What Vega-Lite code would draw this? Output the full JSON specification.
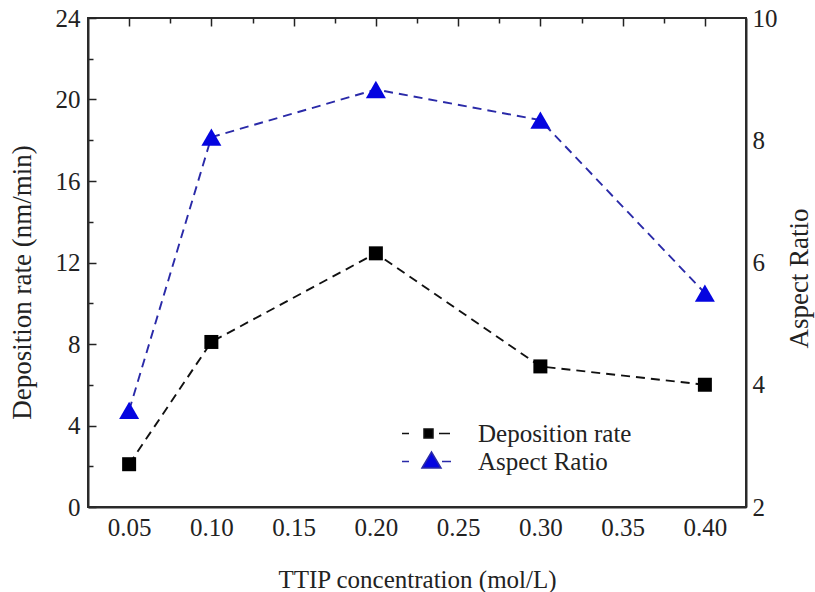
{
  "$schema": "https://vega.github.io/schema/vega-lite/v6.json",
  "width": 658,
  "height": 489,
  "autosize": {"type": "none"},
  "padding": {"left": 88, "top": 18, "right": 69, "bottom": 85},
  "background": "white",
  "config": {
    "view": {"stroke": "#2a2a2a", "strokeWidth": 2},
    "font": "Liberation Serif",
    "axis": {
      "domainColor": "#2a2a2a",
      "domainWidth": 2,
      "ticks": false,
      "tickSize": 0,
      "grid": true,
      "gridColor": "#222",
      "gridWidth": 1.5,
      "gridOpacity": 1,
      "labelFont": "Liberation Serif",
      "labelFontSize": 25,
      "labelColor": "#222",
      "labelPadding": 8,
      "titleFont": "Liberation Serif",
      "titleFontSize": 25,
      "titleFontWeight": "normal",
      "titleColor": "#222"
    },
    "legend": {
      "labelFont": "Liberation Serif",
      "labelFontSize": 25,
      "labelColor": "#222",
      "symbolSize": 400,
      "labelOffset": 40,
      "symbolStrokeWidth": 1.5
    }
  },
  "data": {
    "values": [
      {"conc": 0.05, "series": "Deposition rate", "value": 2.1},
      {"conc": 0.10, "series": "Deposition rate", "value": 8.1},
      {"conc": 0.20, "series": "Deposition rate", "value": 12.45},
      {"conc": 0.30, "series": "Deposition rate", "value": 6.9},
      {"conc": 0.40, "series": "Deposition rate", "value": 6.0},
      {"conc": 0.05, "series": "Aspect Ratio", "value": 3.58},
      {"conc": 0.10, "series": "Aspect Ratio", "value": 8.05},
      {"conc": 0.20, "series": "Aspect Ratio", "value": 8.83},
      {"conc": 0.30, "series": "Aspect Ratio", "value": 8.33},
      {"conc": 0.40, "series": "Aspect Ratio", "value": 5.5}
    ]
  },
  "encoding": {
    "x": {
      "field": "conc",
      "type": "quantitative",
      "scale": {"domain": [0.025, 0.425], "nice": false, "zero": false},
      "axis": {
        "orient": "bottom",
        "title": "TTIP concentration (mol/L)",
        "values": [0.05, 0.075, 0.1, 0.125, 0.15, 0.175, 0.2, 0.225, 0.25, 0.275, 0.3, 0.325, 0.35, 0.375, 0.4],
        "format": ".2f",
        "labelExpr": "round(datum.value * 1000) % 50 === 0 ? datum.label : ''",
        "gridDash": {"condition": {"test": "round(datum.value * 1000) % 50 === 0", "value": [8, 2000]}, "value": [5, 2000]},
        "titlePadding": 27
      }
    }
  },
  "layer": [
    {
      "transform": [{"filter": "datum.series === 'Deposition rate'"}],
      "encoding": {
        "y": {
          "field": "value",
          "type": "quantitative",
          "scale": {"domain": [0, 24], "nice": false},
          "axis": {
            "orient": "left",
            "title": "Deposition rate (nm/min)",
            "values": [0, 2, 4, 6, 8, 10, 12, 14, 16, 18, 20, 22, 24],
            "labelExpr": "datum.value % 4 === 0 ? datum.label : ''",
            "gridDash": {"condition": {"test": "datum.value % 4 === 0", "value": [8, 2000]}, "value": [5, 2000]},
            "titleFontSize": 27,
            "titleAngle": -90,
            "titleBaseline": "bottom",
            "titleX": -52,
            "titleY": 264
          }
        }
      },
      "layer": [
        {
          "mark": {"type": "line", "stroke": "#111", "strokeWidth": 1.9, "strokeDash": [9, 6]}
        },
        {
          "mark": {"type": "point", "shape": "square", "filled": true, "opacity": 1, "size": 196},
          "encoding": {
            "color": {
              "field": "series",
              "type": "nominal",
              "scale": {"domain": ["Deposition rate"], "range": ["#000000"]},
              "legend": {
                "orient": "none",
                "legendX": 325,
                "legendY": 403,
                "title": null,
                "symbolType": "M-2.35,0H-1.65M-0.15,-0.45H0.75V0.45H-0.15ZM1.35,0H2.45",
                "symbolStrokeColor": "#111"
              }
            }
          }
        }
      ]
    },
    {
      "transform": [{"filter": "datum.series === 'Aspect Ratio'"}],
      "encoding": {
        "y": {
          "field": "value",
          "type": "quantitative",
          "scale": {"domain": [2, 10], "nice": false, "zero": false},
          "axis": {
            "orient": "right",
            "title": "Aspect Ratio",
            "values": [2, 3, 4, 5, 6, 7, 8, 9, 10],
            "labelExpr": "datum.value % 2 === 0 ? datum.label : ''",
            "gridDash": {"condition": {"test": "datum.value % 2 === 0", "value": [8, 2000]}, "value": [5, 2000]},
            "labelPadding": 6,
            "titleFontSize": 27,
            "titleAngle": -90,
            "titleBaseline": "top",
            "titleX": 40,
            "titleY": 260
          }
        }
      },
      "layer": [
        {
          "mark": {"type": "line", "stroke": "#2a2aa8", "strokeWidth": 1.9, "strokeDash": [9, 6]}
        },
        {
          "mark": {"type": "point", "shape": "triangle-up", "filled": true, "opacity": 1, "size": 400},
          "encoding": {
            "color": {
              "field": "series",
              "type": "nominal",
              "scale": {"domain": ["Aspect Ratio"], "range": ["#0505e0"]},
              "legend": {
                "orient": "none",
                "legendX": 325,
                "legendY": 431,
                "title": null,
                "symbolType": "M-2.35,0H-1.65M-0.35,0.65L0.6,-0.95L1.55,0.65ZM1.65,0H2.55",
                "symbolStrokeColor": "#2a2aa8"
              }
            }
          }
        }
      ]
    }
  ],
  "resolve": {
    "scale": {"y": "independent", "color": "independent"},
    "legend": {"color": "independent"}
  }
}
